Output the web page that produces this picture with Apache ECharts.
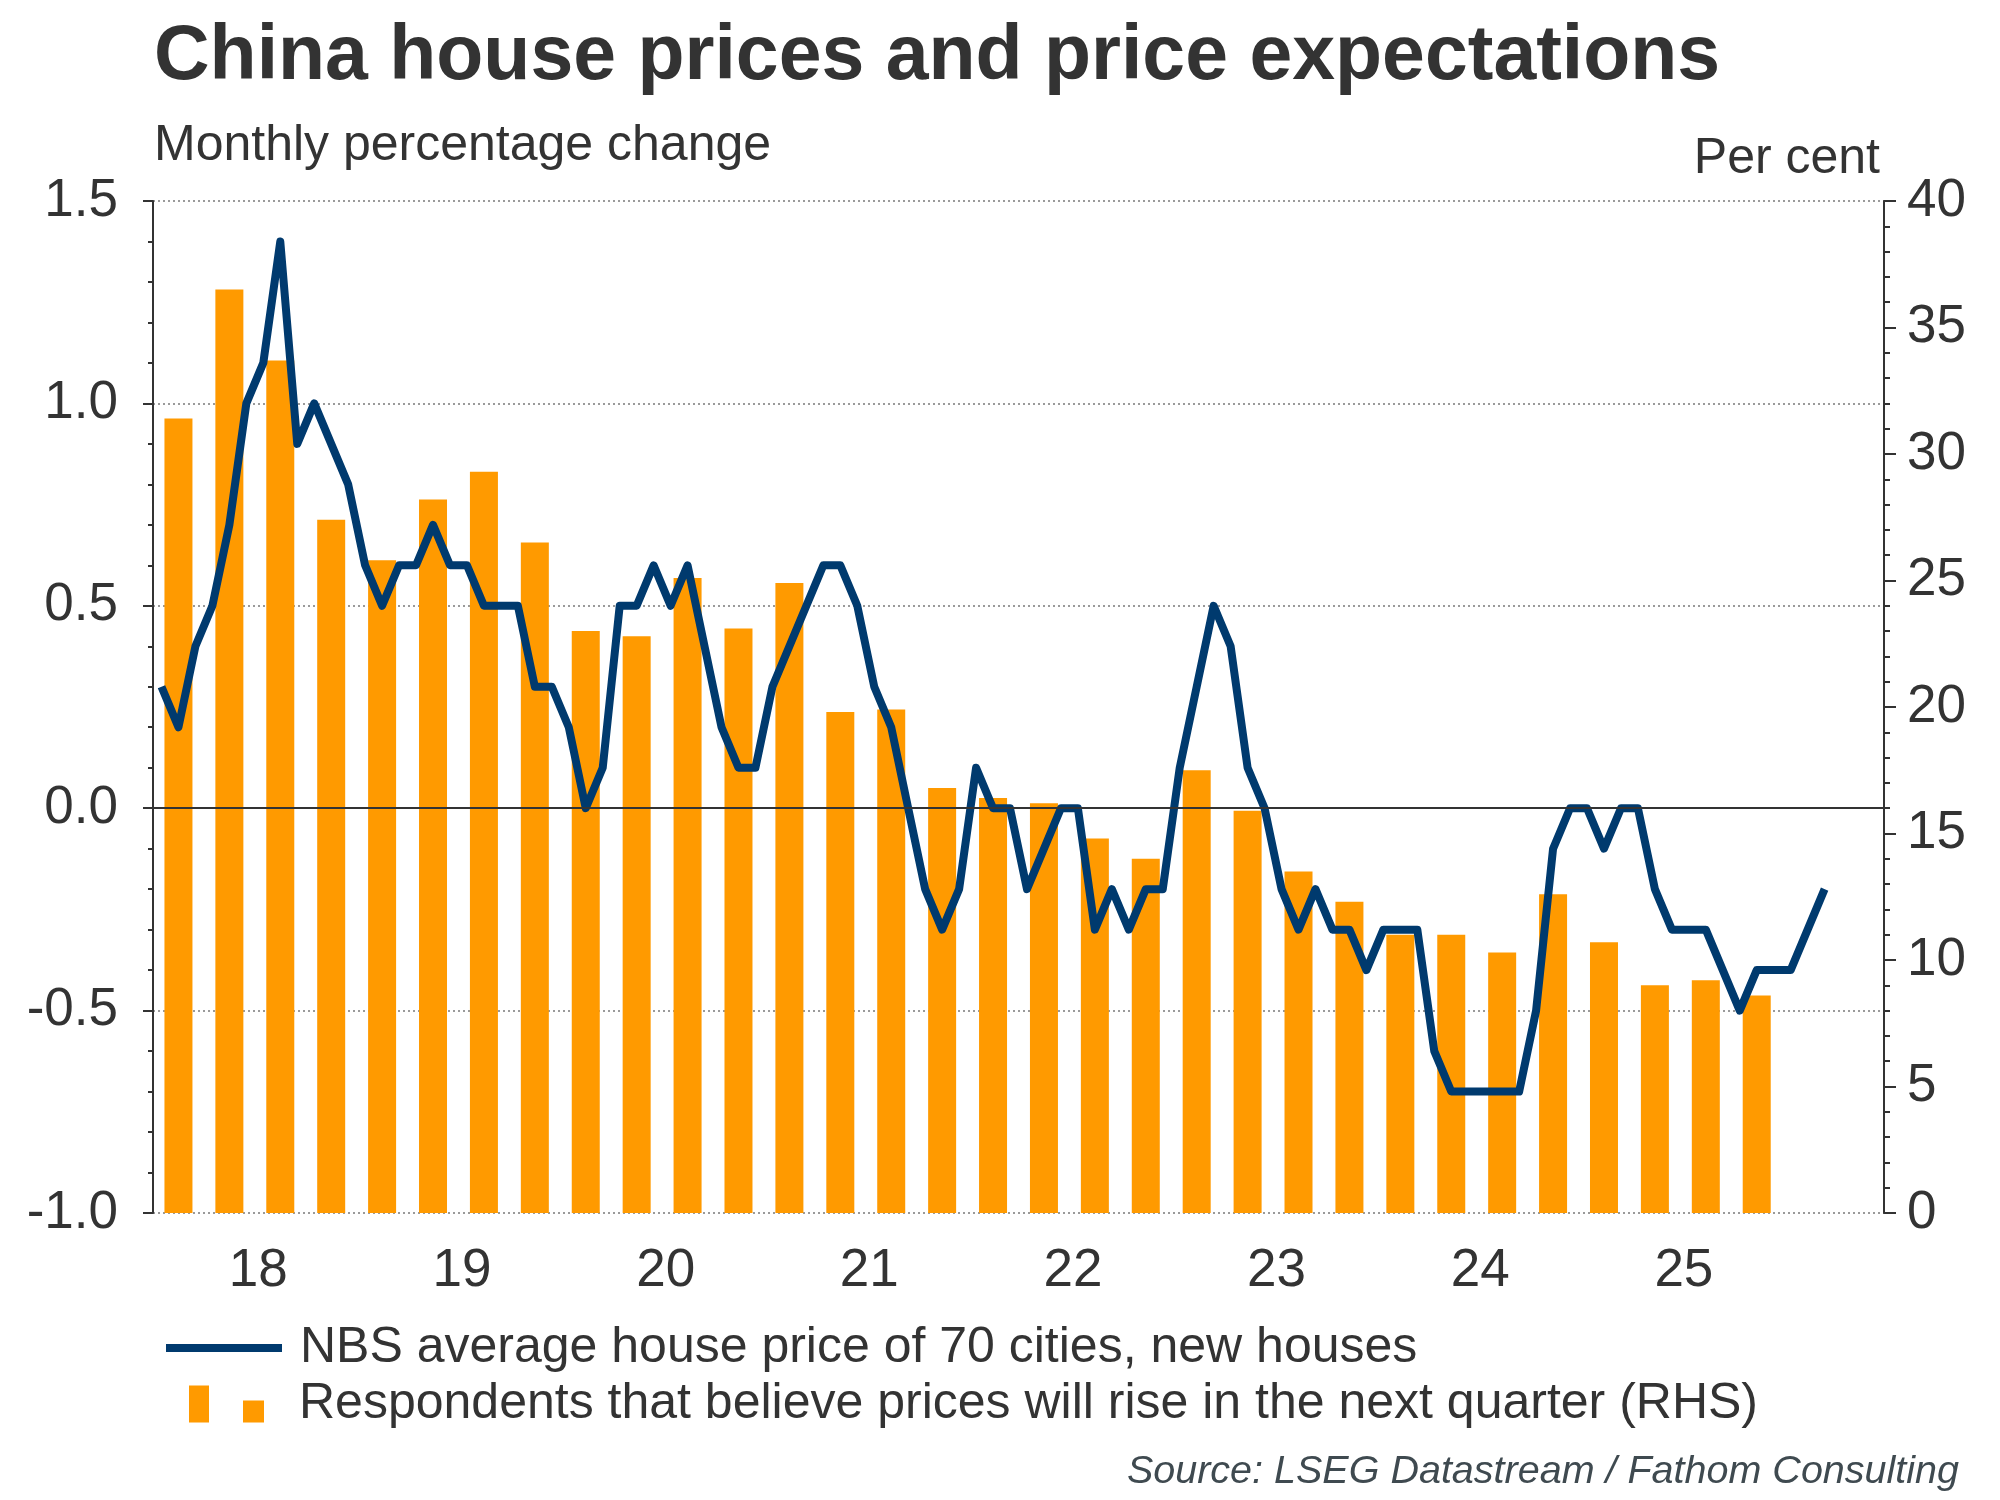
<!DOCTYPE html>
<html>
<head>
    <meta charset="utf-8">
    <script src="https://cdn.jsdelivr.net/npm/echarts@6.0.0/dist/echarts.min.js"></script>
    <style>
        body { margin: 0; background: #fff; }
    </style>
</head>
<body>
    <div id="main" style="width: 2000px;height:1500px;"></div>
    <script type="text/javascript">
        var myChart = echarts.init(document.getElementById('main'));

        var fontFamily = "'Liberation Sans', Arial, sans-serif";
        var textColor = '#333333';

        // monthly categories, Jan 2018 .. Jun 2026
        var months = [];
        for (var y = 2018; y <= 2026; y++) {
            for (var m = 1; m <= 12; m++) {
                if (y === 2026 && m > 6) break;
                months.push(y + '-' + (m < 10 ? '0' + m : m));
            }
        }

        // year labels shown on the x axis
        var yearLabels = ['18', '19', '20', '21', '22', '23', '24', '25'];

        // NBS 70 cities, new houses, monthly % change (Jan 2018 .. Mar 2026)
        var housePrice = [
            0.3, 0.2, 0.4, 0.5, 0.7, 1.0, 1.1, 1.4, 0.9, 1.0, 0.9, 0.8,
            0.6, 0.5, 0.6, 0.6, 0.7, 0.6, 0.6, 0.5, 0.5, 0.5, 0.3, 0.3,
            0.2, 0.0, 0.1, 0.5, 0.5, 0.6, 0.5, 0.6, 0.4, 0.2, 0.1, 0.1,
            0.3, 0.4, 0.5, 0.6, 0.6, 0.5, 0.3, 0.2, 0.0, -0.2, -0.3, -0.2,
            0.1, 0.0, 0.0, -0.2, -0.1, 0.0, 0.0, -0.3, -0.2, -0.3, -0.2, -0.2,
            0.1, 0.3, 0.5, 0.4, 0.1, 0.0, -0.2, -0.3, -0.2, -0.3, -0.3, -0.4,
            -0.3, -0.3, -0.3, -0.6, -0.7, -0.7, -0.7, -0.7, -0.7, -0.5, -0.1, 0.0,
            0.0, -0.1, 0.0, 0.0, -0.2, -0.3, -0.3, -0.3, -0.4, -0.5, -0.4, -0.4,
            -0.4, -0.3, -0.2
        ];

        // respondents expecting a rise next quarter, per cent (2018Q1 .. 2025Q4)
        var expectRise = [
            31.4, 36.5, 33.7, 27.4,
            25.8, 28.2, 29.3, 26.5,
            23.0, 22.8, 25.1, 23.1,
            24.9, 19.8, 19.9, 16.8,
            16.4, 16.2, 14.8, 14.0,
            17.5, 15.9, 13.5, 12.3,
            11.0, 11.0, 10.3, 12.6,
            10.7, 9.0, 9.2, 8.6
        ];

        var lineName = 'NBS average house price of 70 cities, new houses';
        var barName = 'Respondents that believe prices will rise in the next quarter (RHS)';

        // quarterly bars sit on the middle month of each quarter
        var barData = months.map(function (m, i) {
            if (i % 3 !== 1) return null;
            var q = (i - 1) / 3;
            return q < expectRise.length ? expectRise[q] : null;
        });

        var option = {
            animation: false,
            backgroundColor: '#ffffff',
            textStyle: { fontFamily: fontFamily },
            grid: {
                left: 153,
                right: 116,
                top: 201,
                bottom: 287
            },
            graphic: [
                {
                    type: 'text', left: 154, top: 19,
                    style: { text: 'China house prices and price expectations', font: 'bold 77px ' + fontFamily, fill: '#333333' }
                },
                {
                    type: 'text', left: 154, top: 121,
                    style: { text: 'Monthly percentage change', font: '50px ' + fontFamily, fill: textColor }
                },
                {
                    type: 'text', right: 120, top: 134,
                    style: { text: 'Per cent', font: '50px ' + fontFamily, fill: textColor }
                },
                {
                    type: 'text', right: 41, top: 1452,
                    style: { text: 'Source: LSEG Datastream / Fathom Consulting', font: 'italic 39.5px ' + fontFamily, fill: '#3f4a50' }
                }
            ],
            legend: [
                {
                    left: 166, top: 1320, padding: 0,
                    itemWidth: 116, itemHeight: 8,
                    selectedMode: false,
                    data: [{ name: lineName, icon: 'rect' }],
                    textStyle: { fontSize: 50, color: textColor, lineHeight: 56, padding: [0, 0, 0, 13] }
                },
                {
                    left: 189, top: 1376, padding: 0,
                    itemWidth: 75, itemHeight: 37,
                    selectedMode: false,
                    data: [{ name: barName, icon: 'path://M0,0h20v37h-20zM54,15h21v22h-21z' }],
                    textStyle: { fontSize: 50, color: textColor, lineHeight: 56, padding: [0, 0, 0, 30] }
                }
            ],
            xAxis: [
                {
                    type: 'category',
                    data: months,
                    boundaryGap: true,
                    axisLine: { lineStyle: { color: '#333333', width: 2 } },
                    axisTick: {
                        length: 6,
                        lineStyle: { color: '#333333', width: 2 },
                        interval: function (i) { return i % 3 === 0 && i % 12 !== 0; }
                    },
                    axisLabel: {
                        interval: function (i) { return i % 12 === 5 && i / 12 < yearLabels.length; },
                        formatter: function (v, i) { return yearLabels[Math.floor(i / 12)]; },
                        fontSize: 53,
                        color: textColor,
                        margin: 32,
                        padding: [0, 0, 0, 24]
                    },
                    splitLine: { show: false }
                },
                {
                    type: 'category',
                    data: months,
                    boundaryGap: true,
                    position: 'bottom',
                    axisLine: { show: false },
                    axisTick: {
                        length: 12,
                        lineStyle: { color: '#333333', width: 2 },
                        interval: function (i) { return i % 12 === 0 && i > 0; }
                    },
                    axisLabel: { show: false },
                    splitLine: { show: false }
                }
            ],
            yAxis: [
                {
                    type: 'value',
                    min: -1, max: 1.5, interval: 0.5,
                    axisLine: { show: true, lineStyle: { color: '#333333', width: 2 } },
                    axisTick: { show: true, length: 10, lineStyle: { color: '#333333', width: 2 } },
                    minorTick: { show: true, splitNumber: 5, length: 5, lineStyle: { color: '#333333', width: 2 } },
                    axisLabel: {
                        fontSize: 53, color: textColor, margin: 35,
                        formatter: function (v) { return v.toFixed(1); }
                    },
                    splitLine: { show: true, lineStyle: { color: '#9a9a9a', width: 2, type: [2, 3] } }
                },
                {
                    type: 'value',
                    min: 0, max: 40, interval: 5,
                    position: 'right',
                    axisLine: { show: true, lineStyle: { color: '#333333', width: 2 } },
                    axisTick: { show: true, length: 12, lineStyle: { color: '#333333', width: 2 } },
                    minorTick: { show: true, splitNumber: 5, length: 6, lineStyle: { color: '#333333', width: 2 } },
                    axisLabel: { fontSize: 53, color: textColor, margin: 23 },
                    splitLine: { show: false }
                }
            ],
            series: [
                {
                    name: barName,
                    type: 'bar',
                    xAxisIndex: 0,
                    yAxisIndex: 1,
                    data: barData,
                    barWidth: 28,
                    itemStyle: { color: '#FF9A00' },
                    z: 1
                },
                {
                    name: lineName,
                    type: 'line',
                    xAxisIndex: 0,
                    yAxisIndex: 0,
                    data: housePrice,
                    showSymbol: false,
                    lineStyle: { color: '#003a6e', width: 8, join: 'round' },
                    itemStyle: { color: '#003a6e' },
                    z: 3,
                    markLine: {
                        silent: true,
                        symbol: 'none',
                        label: { show: false },
                        lineStyle: { color: '#333333', width: 2, type: 'solid' },
                        data: [{ yAxis: 0 }]
                    }
                }
            ]
        };

        myChart.setOption(option);
    </script>
</body>
</html>
